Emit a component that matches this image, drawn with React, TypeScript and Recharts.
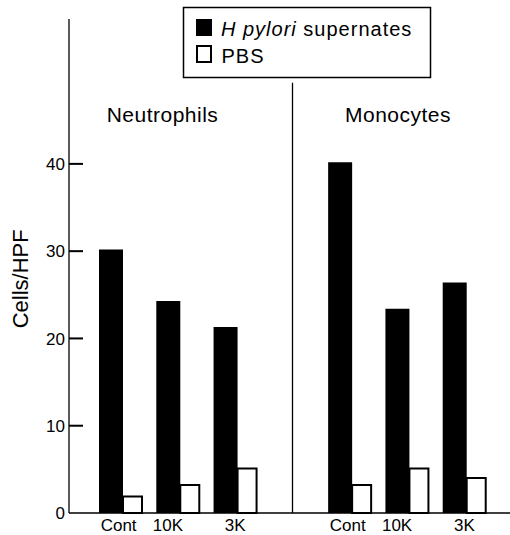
import React from 'react';
import { BarChart, Bar, XAxis, YAxis, ReferenceLine } from 'recharts';

const conditions = ['Cont', '10K', '3K'];
const groups = ['Neutrophils', 'Monocytes'];
const hpyloriNeutrophils = [30.2, 24.3, 21.3];
const pbsNeutrophils = [1.9, 3.2, 5.1];
const hpyloriMonocytes = [40.2, 23.4, 26.4];
const pbsMonocytes = [3.2, 5.1, 4.0];
const yTicks = [0, 10, 20, 30, 40];
const yMax = 56.6;
const dividerTop = 49.3;

const data = [
  ...conditions.map((c, i) => ({ id: `N-${c}`, label: c, hp: hpyloriNeutrophils[i], pbs: pbsNeutrophils[i] })),
  { id: 'gap', label: '' },
  ...conditions.map((c, i) => ({ id: `M-${c}`, label: c, hp: hpyloriMonocytes[i], pbs: pbsMonocytes[i] })),
];

const labelOf: Record<string, string> = {};
data.forEach((d) => { labelOf[d.id] = d.label; });

const FONT = '"Liberation Sans", Arial, Helvetica, sans-serif';
const tickNudge: Record<string, number> = { Cont: -2, '10K': -10, '3K': 0 };
const AXIS_X = 69;

const YTick = (props: any) => {
  const { y, payload } = props;
  const v = payload.value;
  return (
    <g>
      {v !== 0 && <rect x={AXIS_X} y={y - 1} width={14} height={2} fill="#000" />}
      <text x={AXIS_X - 4} y={y} dy="0.36em" textAnchor="end" fontSize={17} fill="#000" fontFamily={FONT}>
        {v}
      </text>
    </g>
  );
};

const XTick = (props: any) => {
  const { x, y, payload } = props;
  const label = labelOf[payload.value] || '';
  if (!label) return null;
  return (
    <text x={x + (tickNudge[label] || 0)} y={y} dy="0.71em" textAnchor="middle" fontSize={17} fill="#000" fontFamily={FONT}>
      {label}
    </text>
  );
};

const YLabel = (props: any) => {
  const vb = props.viewBox || { x: 0, y: 19, width: 69, height: 494 };
  const cx = vb.x + 28;
  const cy = vb.y + vb.height * 0.526;
  return (
    <text x={cx} y={cy} textAnchor="middle" fontSize={22} fill="#000" fontFamily={FONT} transform={`rotate(-90, ${cx}, ${cy})`}>
      Cells/HPF
    </text>
  );
};

export default function App() {
  return (
    <div style={{ position: 'absolute', left: 0, top: 0, width: 510, height: 535, background: '#fff' }}>
      <BarChart
        width={510}
        height={535}
        data={data}
        margin={{ top: 19, right: 0, bottom: 0, left: 0 }}
        barGap={0}
      >
        <XAxis
          dataKey="id"
          interval={0}
          height={22}
          tickSize={0}
          tickMargin={6}
          tickLine={false}
          axisLine={{ stroke: '#000', strokeWidth: 1.3 }}
          padding={{ left: 23, right: 17 }}
          tick={XTick}
        />
        <YAxis
          width={AXIS_X}
          domain={[0, yMax]}
          ticks={yTicks}
          interval={0}
          tickLine={false}
          axisLine={{ stroke: '#000', strokeWidth: 1.3 }}
          tick={YTick}
          label={<YLabel />}
        />
        <ReferenceLine
          segment={[{ x: 'gap', y: 0 }, { x: 'gap', y: dividerTop }]}
          stroke="#000"
          strokeWidth={1.3}
        />
        <Bar dataKey="hp" barSize={24} fill="#000" isAnimationActive={false} />
        <Bar dataKey="pbs" barSize={19} fill="#fff" stroke="#000" strokeWidth={2} isAnimationActive={false} />
      </BarChart>
      <svg width={510} height={535} style={{ position: 'absolute', left: 0, top: 0, pointerEvents: 'none' }}>
        <rect x={183.5} y={7.5} width={247} height={70} fill="#fff" stroke="#000" strokeWidth={1.5} />
        <rect x={196} y={19} width={16} height={17} fill="#000" />
        <rect x={197} y={46} width={14} height={16} fill="#fff" stroke="#000" strokeWidth={2} />
        <text x={221} y={36} fontSize={20} letterSpacing={1} fill="#000" fontFamily={FONT}>
          <tspan fontStyle="italic">H pylori</tspan>
          <tspan> supernates</tspan>
        </text>
        <text x={221.5} y={63} fontSize={20} letterSpacing={1} fill="#000" fontFamily={FONT}>PBS</text>
        <text x={162.5} y={122} fontSize={21} letterSpacing={0.5} textAnchor="middle" fill="#000" fontFamily={FONT}>{groups[0]}</text>
        <text x={398} y={122} fontSize={21} letterSpacing={0.5} textAnchor="middle" fill="#000" fontFamily={FONT}>{groups[1]}</text>
      </svg>
    </div>
  );
}
